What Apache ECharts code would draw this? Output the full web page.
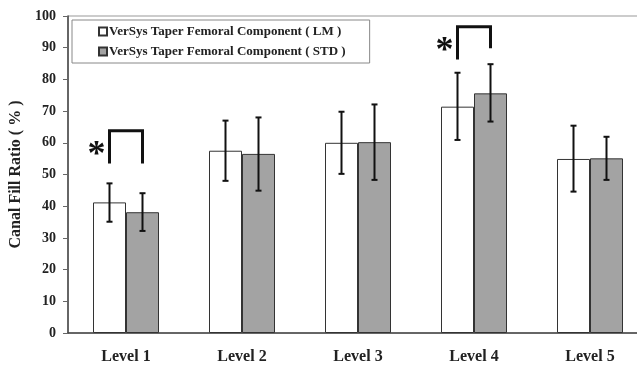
<!DOCTYPE html>
<html>
<head>
<meta charset="utf-8">
<script src="https://cdn.jsdelivr.net/npm/echarts@6/dist/echarts.min.js"></script>
<style>html,body{margin:0;padding:0;background:#fff}#c{width:637px;height:367px}</style>
</head>
<body>
<div id="c"></div>
<script>
const categories = ['Level 1', 'Level 2', 'Level 3', 'Level 4', 'Level 5'];
const seriesNames = ['VerSys Taper Femoral Component ( LM )', 'VerSys Taper Femoral Component ( STD )'];
const lmMean = [41.2, 57.5, 60.0, 71.4, 54.9];
const lmUpper = [47.2, 67.0, 69.8, 82.1, 65.4];
const lmLower = [35.1, 48.0, 50.2, 60.9, 44.6];
const stdMean = [38.1, 56.5, 60.2, 75.6, 55.1];
const stdUpper = [44.1, 68.0, 72.1, 84.8, 61.9];
const stdLower = [32.2, 44.9, 48.3, 66.7, 48.3];
const sigCategory = [0, 3];
const sigTop = [63.8, 96.6];
const sigLeftEnd = [53.5, 86.3];
const sigRightEnd = [53.5, 89.8];
const yTicks = [0, 10, 20, 30, 40, 50, 60, 70, 80, 90, 100];

const BAR_W = 33;
const FONT = '"Liberation Serif", "Times New Roman", serif';

function errData(upper, lower) {
  return categories.map((c, i) => [i, upper[i], lower[i]]);
}
function errRender(offset) {
  return function (params, api) {
    const i = api.value(0);
    const pTop = api.coord([i, api.value(1)]);
    const pBot = api.coord([i, api.value(2)]);
    const x = pTop[0] + offset;
    const cap = 3;
    const st = { stroke: '#111', lineWidth: 2 };
    return {
      type: 'group',
      children: [
        { type: 'line', shape: { x1: x, y1: pTop[1], x2: x, y2: pBot[1] }, style: st },
        { type: 'line', shape: { x1: x - cap, y1: pTop[1], x2: x + cap, y2: pTop[1] }, style: st },
        { type: 'line', shape: { x1: x - cap, y1: pBot[1], x2: x + cap, y2: pBot[1] }, style: st }
      ]
    };
  };
}

const sigData = sigCategory.map((c, k) => [c, sigTop[k], sigLeftEnd[k], sigRightEnd[k]]);

const chart = echarts.init(document.getElementById('c'), null, { renderer: 'canvas' });
chart.setOption({
  animation: false,
  backgroundColor: '#fff',
  grid: { left: 68, top: 16, width: 580, height: 317, show: true, borderColor: '#999', borderWidth: 1,
    backgroundColor: 'transparent', containLabel: false, outerBoundsMode: 'none' },
  legend: {
    orient: 'vertical', left: 72, top: 20,
    data: seriesNames,
    icon: 'rect', itemWidth: 8, itemHeight: 8, itemGap: 7,
    borderColor: '#888', borderWidth: 1, borderRadius: 0,
    padding: [5, 24, 5, 26],
    textStyle: { fontFamily: FONT, fontWeight: 'bold', fontSize: 13, color: '#222', padding: [0, 0, 0, -3] }
  },
  xAxis: {
    type: 'category', data: categories, boundaryGap: true,
    axisLine: { lineStyle: { color: '#444', width: 1.5 } },
    axisTick: { inside: true, length: 4, lineStyle: { color: '#666' } },
    axisLabel: { fontFamily: FONT, fontWeight: 'bold', fontSize: 16, color: '#222', margin: 16 }
  },
  yAxis: {
    type: 'value', min: 0, max: 100, interval: 10,
    name: 'Canal Fill Ratio ( % )', nameLocation: 'middle', nameGap: 38, nameRotate: 90,
    nameTextStyle: { fontFamily: FONT, fontWeight: 'bold', fontSize: 16, color: '#222' },
    axisLine: { show: true, lineStyle: { color: '#444', width: 1.5 } },
    axisTick: { show: true, length: 5, lineStyle: { color: '#666' } },
    splitLine: { show: false },
    axisLabel: { fontFamily: FONT, fontWeight: 'bold', fontSize: 14, color: '#222', margin: 12,
      formatter: v => yTicks.includes(v) ? String(v) : '' }
  },
  series: [
    { name: seriesNames[0], type: 'bar', data: lmMean, barWidth: BAR_W, barGap: '0%',
      itemStyle: { color: '#ffffff', borderColor: '#333', borderWidth: 1 } },
    { name: seriesNames[1], type: 'bar', data: stdMean, barWidth: BAR_W, barGap: '0%',
      itemStyle: { color: '#a3a3a3', borderColor: '#333', borderWidth: 1 } },
    { type: 'custom', data: errData(lmUpper, lmLower), renderItem: errRender(-BAR_W / 2), z: 5, silent: true },
    { type: 'custom', data: errData(stdUpper, stdLower), renderItem: errRender(BAR_W / 2), z: 5, silent: true },
    { type: 'custom', data: sigData, z: 6, silent: true,
      renderItem: function (params, api) {
        const i = api.value(0);
        const top = api.coord([i, api.value(1)]);
        const le = api.coord([i, api.value(2)]);
        const re = api.coord([i, api.value(3)]);
        const xl = top[0] - BAR_W / 2, xr = top[0] + BAR_W / 2;
        return {
          type: 'group',
          children: [
            { type: 'polyline', shape: { points: [[xl, le[1]], [xl, top[1]], [xr, top[1]], [xr, re[1]]] },
              style: { stroke: '#111', lineWidth: 3, fill: null } },
            { type: 'text', style: { text: '*', x: xl - 13, y: top[1] + 25, fill: '#111',
              font: 'bold 36px ' + FONT, align: 'center', verticalAlign: 'middle' } }
          ]
        };
      } }
  ]
});
</script>
</body>
</html>
